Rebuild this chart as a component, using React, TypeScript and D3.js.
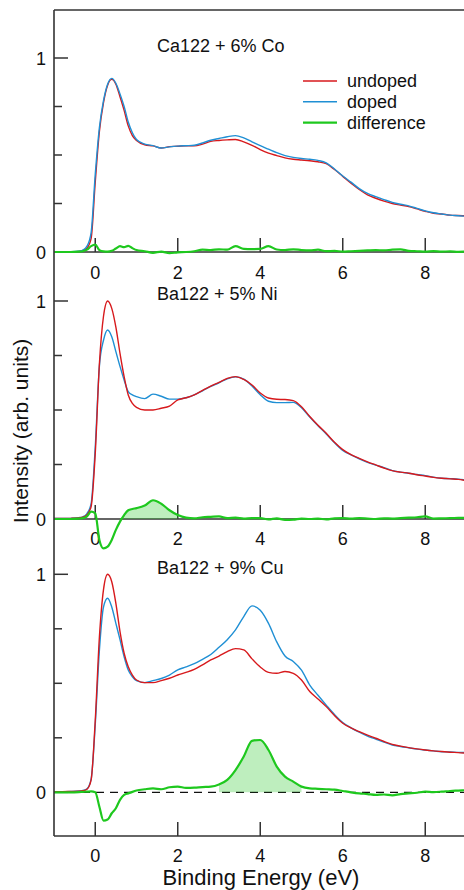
import React from "react";
import * as d3 from "d3";

const energy = [
  -1, -0.8, -0.6, -0.4, -0.3, -0.2, -0.1,
  0, 0.1, 0.2, 0.3, 0.4, 0.5, 0.6, 0.7, 0.8, 0.9, 1.0,
  1.2, 1.4, 1.6, 1.8, 2.0, 2.2, 2.4, 2.6, 2.8, 3.0,
  3.2, 3.4, 3.6, 3.8, 4.0, 4.2, 4.4, 4.6, 4.8, 5.0,
  5.2, 5.4, 5.6, 5.8, 6.0, 6.2, 6.4, 6.6, 6.8, 7.0,
  7.2, 7.4, 7.6, 7.8, 8.0, 8.2, 8.4, 8.6, 8.8, 9.0,
];

const caUndoped = [
  0, 0, 0.001, 0.003, 0.008, 0.02, 0.07,
  0.36, 0.62, 0.77, 0.86, 0.89, 0.865, 0.8, 0.73, 0.65, 0.6, 0.575,
  0.553, 0.547, 0.536, 0.543, 0.545, 0.548, 0.547, 0.556, 0.57, 0.575,
  0.578, 0.58, 0.568, 0.55, 0.528, 0.51, 0.497, 0.485, 0.478, 0.474,
  0.47, 0.465, 0.455, 0.425, 0.39, 0.355, 0.322, 0.295, 0.277, 0.262,
  0.25, 0.242, 0.234, 0.222, 0.21, 0.2, 0.196, 0.19, 0.188, 0.186,
];
const caDoped = [
  0, 0, 0.001, 0.004, 0.01, 0.03, 0.1,
  0.4, 0.64, 0.78, 0.865, 0.895, 0.87, 0.815, 0.75, 0.67, 0.615, 0.58,
  0.556, 0.548, 0.536, 0.542, 0.546, 0.548, 0.55, 0.562, 0.576, 0.585,
  0.594, 0.6, 0.588, 0.568, 0.548, 0.53, 0.512, 0.497, 0.488, 0.482,
  0.478, 0.472, 0.46, 0.428, 0.392, 0.36, 0.327, 0.302, 0.285, 0.27,
  0.256, 0.246, 0.238, 0.225, 0.212, 0.202, 0.196, 0.19, 0.187, 0.184,
];
const caDiff = [
  0, 0, 0, 0.002, 0.004, 0.012, 0.03,
  0.038, 0.01, 0.003, 0.002, 0.006, 0.018, 0.03, 0.025, 0.032, 0.02, 0.01,
  0.004, -0.004, 0.002, -0.006, -0.002, 0, 0.004, 0.012, 0.01, 0.014,
  0.012, 0.03, 0.016, 0.015, 0.016, 0.03, 0.013, 0.01, 0.014, 0.01,
  0.008, 0.012, 0.004, 0.006, 0.002, 0.004, 0.006, 0.008, 0.01, 0.008,
  0.012, 0.014, 0.006, 0.004, 0.002, 0.004, 0.002, 0.003, 0.001, 0.002,
];

const niUndoped = [
  0.002, 0.002, 0.003, 0.005, 0.008, 0.02, 0.057,
  0.3, 0.71, 0.93, 1.0, 0.966, 0.88, 0.76, 0.653, 0.569, 0.53, 0.512,
  0.5, 0.5, 0.508, 0.518, 0.546, 0.556, 0.569, 0.59, 0.61, 0.627,
  0.645, 0.653, 0.64, 0.615, 0.578, 0.555, 0.549, 0.548, 0.543, 0.515,
  0.47, 0.43, 0.393, 0.352, 0.318, 0.295, 0.278, 0.262, 0.248, 0.234,
  0.222, 0.215, 0.21, 0.203, 0.197, 0.191, 0.187, 0.184, 0.182, 0.176,
];
const niDoped = [
  0.002, 0.002, 0.003, 0.006, 0.01, 0.025, 0.07,
  0.33, 0.7, 0.82, 0.867, 0.836, 0.768, 0.7, 0.638, 0.584, 0.569, 0.561,
  0.552, 0.573, 0.563, 0.55, 0.55, 0.556, 0.569, 0.588, 0.608, 0.625,
  0.643, 0.652, 0.642, 0.61, 0.57, 0.54, 0.534, 0.534, 0.535, 0.51,
  0.468, 0.428, 0.39, 0.35, 0.315, 0.294, 0.276, 0.26, 0.247, 0.236,
  0.222, 0.215, 0.21, 0.204, 0.199, 0.192, 0.187, 0.185, 0.183, 0.179,
];
const niDiff = [
  0, 0, 0, 0.002, 0.004, 0.012, 0.034,
  0.026, -0.096, -0.135, -0.127, -0.096, -0.05, -0.012, 0.018, 0.04, 0.046, 0.05,
  0.062, 0.086, 0.07, 0.04, 0.018, 0.006, 0.003, 0.008, 0.01, 0.012,
  0.004, 0.006, 0.002, 0.004, 0.004, -0.002, 0.003, -0.004, -0.003, 0.002,
  0, 0.002, -0.002, 0.003, 0.004, 0.002, 0.004, 0.002, 0, 0.003,
  0.002, 0.004, 0.006, 0.008, 0.012, 0.002, 0.003, 0.004, 0.005, 0.006,
];

const cuUndoped = [
  0.003, 0.003, 0.004, 0.005, 0.007, 0.014, 0.057,
  0.33, 0.71, 0.93, 1.0, 0.966, 0.867, 0.737, 0.638, 0.576, 0.538, 0.515,
  0.503, 0.503, 0.512, 0.523, 0.538, 0.55, 0.564, 0.585, 0.607, 0.625,
  0.645, 0.659, 0.653, 0.612, 0.575, 0.55, 0.546, 0.554, 0.546, 0.515,
  0.462, 0.428, 0.393, 0.352, 0.317, 0.295, 0.278, 0.262, 0.248, 0.233,
  0.22, 0.212, 0.205, 0.199, 0.194, 0.19, 0.187, 0.184, 0.182, 0.179,
];
const cuDoped = [
  0.003, 0.003, 0.004, 0.006, 0.008, 0.016, 0.06,
  0.31, 0.65, 0.85, 0.89, 0.85, 0.775, 0.7, 0.622, 0.561, 0.53, 0.512,
  0.503, 0.512, 0.522, 0.538, 0.562, 0.575, 0.59, 0.61, 0.632, 0.665,
  0.7, 0.745, 0.806, 0.855, 0.835, 0.775, 0.69, 0.625, 0.6, 0.56,
  0.492, 0.445, 0.4, 0.357, 0.32, 0.296, 0.276, 0.258, 0.244, 0.23,
  0.217, 0.21, 0.204, 0.198, 0.194, 0.19, 0.186, 0.185, 0.183, 0.182,
];
const cuDiff = [
  0, 0, 0, 0.001, 0.002, 0.003, 0.004,
  0, -0.066, -0.13, -0.125, -0.096, -0.073, -0.035, -0.012, -0.005, 0.002, 0.008,
  0.014, 0.018, 0.014, 0.023, 0.026, 0.02, 0.021, 0.024, 0.026, 0.036,
  0.057, 0.102, 0.164, 0.236, 0.24, 0.194, 0.118, 0.072, 0.049, 0.026,
  0.018, 0.016, 0.014, 0.012, 0.006, 0, -0.005, -0.008, -0.012, -0.01,
  -0.014, -0.008, -0.005, -0.002, 0.003, 0.001, 0.003, 0.006, 0.008, 0.01,
];

const panelTitles = ["Ca122 + 6% Co", "Ba122 + 5% Ni", "Ba122 + 9% Cu"];
const xTicks = [0, 2, 4, 6, 8];
const yTicks = [0, 0.25, 0.5, 0.75, 1];
const yLabeled = [0, 1];
const fillRanges: (number[] | null)[] = [null, [0.6, 2.0], [3.0, 5.0]];
const legendLabels = ["undoped", "doped", "difference"];

const RED = "#d7191c";
const BLUE = "#1f8fd4";
const GREEN = "#1ec81e";
const AXIS = "#333333";
const FONT = "'Liberation Sans', Arial, Helvetica, sans-serif";

const W = 464;
const H = 890;
const X0 = 54;

const x = d3.scaleLinear().domain([-1, 9]).range([X0, 466.5]);

const panels = [
  { und: caUndoped, dop: caDoped, diff: caDiff, y: d3.scaleLinear().domain([0, 1]).range([252, 58]), titleY: 52, labelY: 278.5, redTop: false, dashed: false },
  { und: niUndoped, dop: niDoped, diff: niDiff, y: d3.scaleLinear().domain([0, 1]).range([519, 301]), titleY: 300, labelY: 545, redTop: true, dashed: false },
  { und: cuUndoped, dop: cuDoped, diff: cuDiff, y: d3.scaleLinear().domain([0, 1]).range([792.3, 574.3]), titleY: 574, labelY: 862, redTop: true, dashed: true },
];

const BOTTOM = 836;

export default function App() {
  return (
    <svg
      width={W}
      height={H}
      style={{ position: "absolute", left: 0, top: 0, background: "#fff" }}
      fontFamily={FONT}
    >
      <rect x={0} y={0} width={W} height={H} fill="#fff" />
      {panels.map((p, i) => {
        const line = d3
          .line<number>()
          .x((_, k) => x(energy[k]))
          .y((v) => p.y(v))
          .curve(d3.curveMonotoneX);
        const zeroY = p.y(0);
        const fr = fillRanges[i];
        let fillPath: string | null = null;
        if (fr) {
          const idx = energy.map((e, k) => k).filter((k) => energy[k] >= fr[0] - 1e-9 && energy[k] <= fr[1] + 1e-9);
          const area = d3
            .area<number>()
            .x((k) => x(energy[k]))
            .y0(zeroY)
            .y1((k) => p.y(Math.max(0, p.diff[k])))
            .curve(d3.curveMonotoneX);
          fillPath = area(idx);
        }
        const redPath = line(p.und) as string;
        const bluePath = line(p.dop) as string;
        return (
          <g key={i}>
            {/* zero line */}
            {p.dashed ? (
              <line x1={X0} x2={W} y1={zeroY} y2={zeroY} stroke="#111" strokeWidth={1.3} strokeDasharray="8,6" />
            ) : (
              <line x1={X0} x2={W} y1={zeroY} y2={zeroY} stroke={AXIS} strokeWidth={1.6} />
            )}
            {/* x ticks */}
            {xTicks.map((t) => {
              const ty = p.dashed ? BOTTOM : zeroY;
              return (
                <g key={t}>
                  <line x1={x(t)} x2={x(t)} y1={ty} y2={ty - 14} stroke={AXIS} strokeWidth={1.5} />
                  <text x={x(t)} y={p.labelY} fontSize={18} textAnchor="middle" fill="#111">
                    {t}
                  </text>
                </g>
              );
            })}
            {/* y ticks */}
            {yTicks.map((t) => {
              const major = yLabeled.includes(t);
              return (
                <line key={t} x1={X0} x2={X0 + (major ? 14 : 8)} y1={p.y(t)} y2={p.y(t)} stroke={AXIS} strokeWidth={1.5} />
              );
            })}
            {yLabeled.map((t) => (
              <text key={t} x={46} y={p.y(t) + 6.5} fontSize={18} textAnchor="end" fill="#111">
                {t}
              </text>
            ))}
            {/* title */}
            <text x={157} y={p.titleY} fontSize={18} fill="#111">
              {panelTitles[i]}
            </text>
            {fillPath && <path d={fillPath} fill="rgba(40,200,40,0.3)" stroke="none" />}
            {p.redTop ? (
              <>
                <path d={bluePath} fill="none" stroke={BLUE} strokeWidth={1.4} />
                <path d={redPath} fill="none" stroke={RED} strokeWidth={1.4} />
              </>
            ) : (
              <>
                <path d={redPath} fill="none" stroke={RED} strokeWidth={1.4} />
                <path d={bluePath} fill="none" stroke={BLUE} strokeWidth={1.4} />
              </>
            )}
            <path d={line(p.diff) as string} fill="none" stroke={GREEN} strokeWidth={2.2} />
          </g>
        );
      })}
      {/* frame */}
      <line x1={X0} x2={X0} y1={10} y2={BOTTOM} stroke={AXIS} strokeWidth={1.6} />
      <line x1={X0} x2={W} y1={10} y2={10} stroke={AXIS} strokeWidth={1.6} />
      <line x1={X0} x2={W} y1={BOTTOM} y2={BOTTOM} stroke={AXIS} strokeWidth={1.6} />
      {/* legend */}
      {legendLabels.map((l, k) => {
        const ly = 81 + k * 20.8;
        const col = [RED, BLUE, GREEN][k];
        return (
          <g key={l}>
            <line x1={303} x2={337} y1={ly} y2={ly} stroke={col} strokeWidth={k === 2 ? 2.2 : 1.4} />
            <text x={347} y={ly + 6} fontSize={18} fill="#111">
              {l}
            </text>
          </g>
        );
      })}
      {/* axis labels */}
      <text x={261} y={885} fontSize={22} textAnchor="middle" fill="#111">
        Binding Energy (eV)
      </text>
      <text
        transform={`translate(27.5,431) rotate(-90)`}
        fontSize={21}
        textAnchor="middle"
        fill="#111"
      >
        Intensity (arb. units)
      </text>
    </svg>
  );
}
